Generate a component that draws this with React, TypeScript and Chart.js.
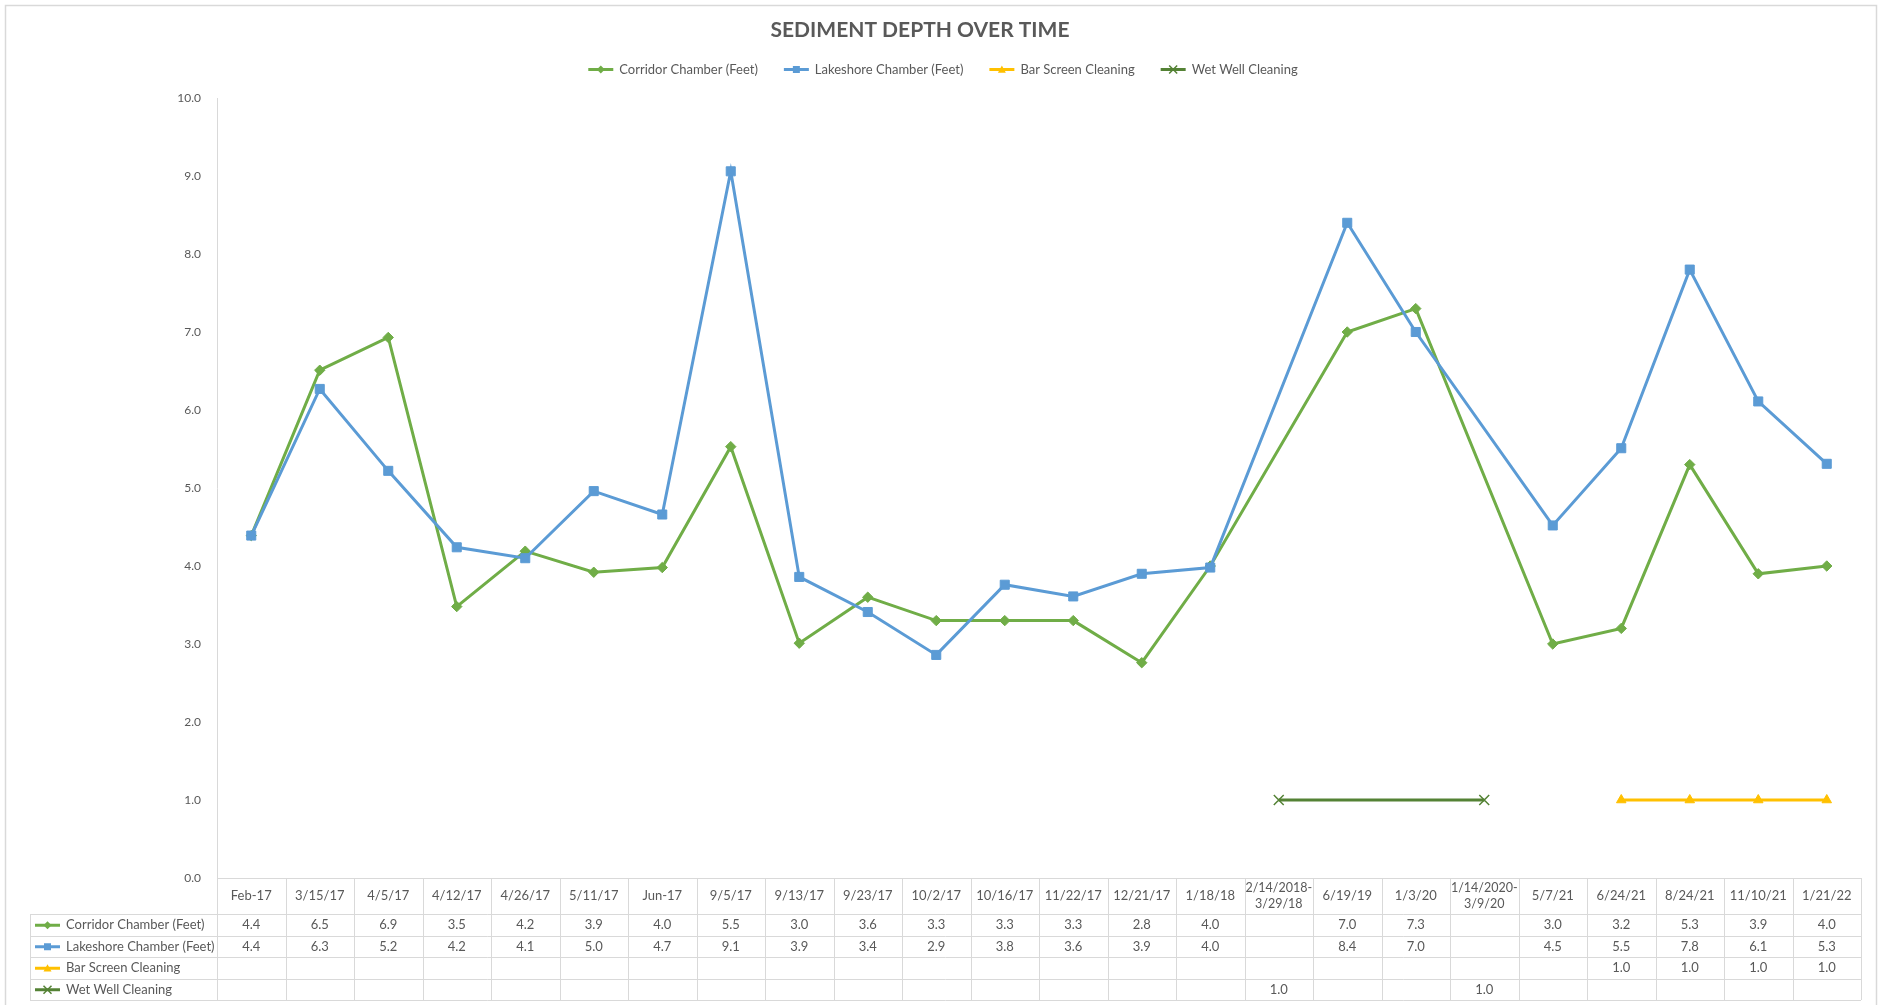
import React, { useEffect, useRef } from 'react';
import { Chart, registerables } from 'chart.js';

Chart.register(...registerables);

// ---------- DATA ----------
const categories: string[][] = [
  ['Feb-17'], ['3/15/17'], ['4/5/17'], ['4/12/17'], ['4/26/17'], ['5/11/17'], ['Jun-17'],
  ['9/5/17'], ['9/13/17'], ['9/23/17'], ['10/2/17'], ['10/16/17'], ['11/22/17'], ['12/21/17'],
  ['1/18/18'], ['2/14/2018-', '3/29/18'], ['6/19/19'], ['1/3/20'], ['1/14/2020-', '3/9/20'],
  ['5/7/21'], ['6/24/21'], ['8/24/21'], ['11/10/21'], ['1/21/22'],
];

const corridorChamber: (number | null)[] = [
  4.39, 6.51, 6.93, 3.48, 4.19, 3.92, 3.98, 5.53, 3.01, 3.6, 3.3, 3.3, 3.3, 2.76, 4.0,
  null, 7.0, 7.3, null, 3.0, 3.2, 5.3, 3.9, 4.0,
];
const lakeshoreChamber: (number | null)[] = [
  4.39, 6.27, 5.22, 4.24, 4.1, 4.96, 4.66, 9.06, 3.86, 3.41, 2.86, 3.76, 3.61, 3.9, 3.98,
  null, 8.4, 7.0, null, 4.52, 5.51, 7.8, 6.11, 5.31,
];
const barScreenCleaning: (number | null)[] = [
  null, null, null, null, null, null, null, null, null, null, null, null, null, null, null,
  null, null, null, null, null, 1.0, 1.0, 1.0, 1.0,
];
const wetWellCleaning: (number | null)[] = [
  null, null, null, null, null, null, null, null, null, null, null, null, null, null, null,
  1.0, null, null, 1.0, null, null, null, null, null,
];

const yMin = 0;
const yMax = 10;
const yStep = 1;

const chartTitle = 'SEDIMENT DEPTH OVER TIME';

const seriesNames = [
  'Corridor Chamber (Feet)',
  'Lakeshore Chamber (Feet)',
  'Bar Screen Cleaning',
  'Wet Well Cleaning',
];

// ---------- STYLE ----------
const FONT = 'Lato, "Open Sans", sans-serif';
const TEXT = '#595959';
const GRIDC = '#D9D9D9';
const seriesStyles = [
  { color: '#70AD47', marker: 'diamond', r: 5 },
  { color: '#5B9BD5', marker: 'square', r: 4.5 },
  { color: '#FFC000', marker: 'triangle', r: 5 },
  { color: '#548235', marker: 'x', r: 5 },
];

function drawMarker(ctx: CanvasRenderingContext2D, kind: string, x: number, y: number, r: number, color: string) {
  ctx.save();
  ctx.fillStyle = color;
  ctx.strokeStyle = color;
  ctx.beginPath();
  if (kind === 'diamond') {
    ctx.moveTo(x, y - r);
    ctx.lineTo(x + r, y);
    ctx.lineTo(x, y + r);
    ctx.lineTo(x - r, y);
    ctx.closePath();
    ctx.fill();
  } else if (kind === 'square') {
    ctx.rect(x - r, y - r, 2 * r, 2 * r);
    ctx.fill();
  } else if (kind === 'triangle') {
    ctx.moveTo(x, y - r);
    ctx.lineTo(x + r, y + r * 0.8);
    ctx.lineTo(x - r, y + r * 0.8);
    ctx.closePath();
    ctx.fill();
  } else if (kind === 'x') {
    ctx.lineWidth = 1.5;
    ctx.moveTo(x - r, y - r);
    ctx.lineTo(x + r, y + r);
    ctx.moveTo(x + r, y - r);
    ctx.lineTo(x - r, y + r);
    ctx.stroke();
  }
  ctx.restore();
}

function drawIcon(ctx: CanvasRenderingContext2D, i: number, x0: number, y: number) {
  const s = seriesStyles[i];
  ctx.save();
  ctx.strokeStyle = s.color;
  ctx.lineWidth = 3;
  ctx.beginPath();
  ctx.moveTo(x0, y);
  ctx.lineTo(x0 + 25, y);
  ctx.stroke();
  ctx.restore();
  drawMarker(ctx, s.marker, x0 + 12.5, y, s.r - 1, s.color);
}

const sheetPlugin = {
  id: 'sheet',
  beforeDraw(chart: any) {
    const ctx = chart.ctx as CanvasRenderingContext2D;
    ctx.save();
    ctx.fillStyle = '#ffffff';
    ctx.fillRect(0, 0, chart.width, chart.height);
    ctx.restore();
  },
  afterDraw(chart: any) {
    const ctx = chart.ctx as CanvasRenderingContext2D;
    const area = chart.chartArea;
    const xs = chart.scales.x;
    const n = categories.length;
    const cw = (area.right - area.left) / n;

    // outer border
    ctx.save();
    ctx.strokeStyle = GRIDC;
    ctx.lineWidth = 1.5;
    ctx.strokeRect(5.5, 5.5, chart.width - 8, chart.height - 4);
    ctx.restore();

    // title
    ctx.save();
    ctx.fillStyle = TEXT;
    ctx.font = `bold 21px ${FONT}`;
    ctx.textAlign = 'center';
    ctx.textBaseline = 'middle';
    ctx.fillText(chartTitle, 920, 30);
    ctx.restore();

    // legend
    ctx.save();
    ctx.font = `13px ${FONT}`;
    const widths = seriesNames.map((t) => ctx.measureText(t).width);
    const itemW = widths.map((w) => 25 + 6 + w);
    const spacing = 26;
    const total = itemW.reduce((a, b) => a + b, 0) + spacing * (seriesNames.length - 1);
    let lx = 943 - total / 2;
    const ly = 69.5;
    seriesNames.forEach((name, i) => {
      drawIcon(ctx, i, lx, ly);
      ctx.fillStyle = TEXT;
      ctx.textAlign = 'left';
      ctx.textBaseline = 'middle';
      ctx.fillText(name, lx + 31, ly + 0.5);
      lx += itemW[i] + spacing;
    });
    ctx.restore();

    // data table
    const top = area.bottom;
    const headerBottom = top + 36;
    const rowH = 21.5;
    const tableLeft = 30;
    const bottom = headerBottom + rowH * 4;
    ctx.save();
    ctx.strokeStyle = GRIDC;
    ctx.lineWidth = 1;
    ctx.beginPath();
    ctx.moveTo(area.left, Math.round(top) + 0.5);
    ctx.lineTo(area.right, Math.round(top) + 0.5);
    for (let r = 0; r <= 4; r++) {
      const y = Math.round(headerBottom + r * rowH) + 0.5;
      ctx.moveTo(tableLeft, y);
      ctx.lineTo(area.right, y);
    }
    ctx.moveTo(tableLeft + 0.5, headerBottom);
    ctx.lineTo(tableLeft + 0.5, bottom);
    for (let c = 0; c <= n; c++) {
      const x = Math.round(area.left + c * cw) + 0.5;
      ctx.moveTo(x, top);
      ctx.lineTo(x, bottom);
    }
    ctx.stroke();

    ctx.fillStyle = TEXT;
    ctx.textAlign = 'center';
    ctx.textBaseline = 'middle';
    categories.forEach((lines, i) => {
      const cx = xs.getPixelForValue(i);
      const cy = (top + headerBottom) / 2;
      if (lines.length === 1) {
        ctx.font = `13px ${FONT}`;
        ctx.fillText(lines[0], cx, cy);
      } else {
        ctx.font = `12.5px ${FONT}`;
        ctx.fillText(lines[0], cx, cy - 8);
        ctx.fillText(lines[1], cx, cy + 8);
      }
    });

    ctx.font = `13px ${FONT}`;
    const allSeries = [corridorChamber, lakeshoreChamber, barScreenCleaning, wetWellCleaning];
    allSeries.forEach((vals, r) => {
      const cy = headerBottom + r * rowH + rowH / 2 + 0.5;
      drawIcon(ctx, r, 35, cy);
      ctx.fillStyle = TEXT;
      ctx.textAlign = 'left';
      ctx.fillText(seriesNames[r], 66, cy);
      ctx.textAlign = 'center';
      vals.forEach((v, i) => {
        if (v === null) return;
        ctx.fillText(v.toFixed(1), xs.getPixelForValue(i), cy);
      });
    });
    ctx.restore();
  },
};

export default function App() {
  const ref = useRef<HTMLCanvasElement | null>(null);

  useEffect(() => {
    document.body.style.margin = '0';
    const canvas = ref.current;
    if (!canvas) return;
    const labels = categories.map((c) => c.join(' '));
    const mk = (i: number, data: (number | null)[], order: number) => {
      const s = seriesStyles[i];
      const ps = s.marker === 'diamond' ? 'rectRot' : s.marker === 'square' ? 'rect' : s.marker === 'triangle' ? 'triangle' : 'crossRot';
      const radius = s.marker === 'square' ? 6.4 : s.marker === 'x' ? 7 : s.marker === 'triangle' ? 5.5 : 5.2;
      return {
        label: seriesNames[i],
        data,
        order,
        borderColor: s.color,
        backgroundColor: s.color,
        borderWidth: 3,
        pointStyle: ps,
        pointRadius: radius,
        pointBorderWidth: s.marker === 'x' ? 1.5 : 1,
        pointBackgroundColor: s.color,
        pointBorderColor: s.color,
        spanGaps: true,
        tension: 0,
      };
    };
    const chart = new Chart(canvas, {
      type: 'line',
      data: {
        labels,
        datasets: [
          mk(0, corridorChamber, 2),
          mk(1, lakeshoreChamber, 1),
          mk(2, barScreenCleaning, 3),
          mk(3, wetWellCleaning, 4),
        ] as any,
      },
      options: {
        animation: false,
        responsive: false,
        devicePixelRatio: 1,
        layout: { padding: { top: 98, left: 0, right: 18, bottom: 127 } },
        plugins: {
          legend: { display: false },
          title: { display: false },
          tooltip: { enabled: false },
        },
        scales: {
          x: { type: 'category', display: false, offset: true },
          y: {
            min: yMin,
            max: yMax,
            grid: { display: false, drawTicks: false },
            border: { display: true, color: GRIDC, width: 1 },
            ticks: {
              stepSize: yStep,
              padding: 16,
              color: TEXT,
              font: { family: FONT, size: 12 },
              callback: (v: any) => Number(v).toFixed(1),
            },
            afterFit: (s: any) => {
              s.width = 217;
            },
          },
        },
      } as any,
      plugins: [sheetPlugin],
    });
    return () => chart.destroy();
  }, []);

  return <canvas ref={ref} width={1879} height={1005} style={{ display: 'block', width: 1879, height: 1005 }} />;
}
